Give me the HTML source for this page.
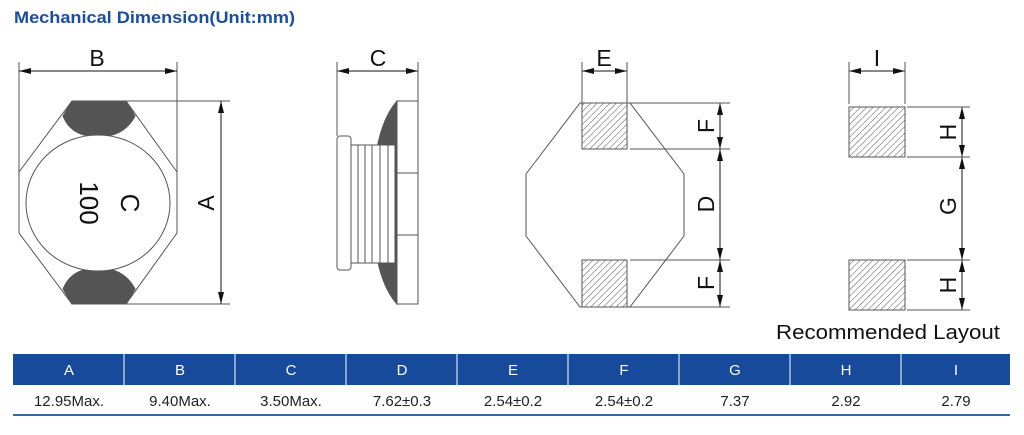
<!DOCTYPE html>
<html><head><meta charset="utf-8"><style>
html,body{margin:0;padding:0;background:#fff;}
svg{display:block;font-family:"Liberation Sans",sans-serif;}
</style></head><body>
<svg width="1024" height="435" viewBox="0 0 1024 435" xmlns="http://www.w3.org/2000/svg">
<defs>
<pattern id="h" width="4.5" height="4.5" patternUnits="userSpaceOnUse" patternTransform="rotate(45)">
<line x1="0" y1="0" x2="0" y2="4.5" stroke="#444" stroke-width="0.9"/>
</pattern>
<marker id="a" markerWidth="12" markerHeight="6" refX="12" refY="3" orient="auto-start-reverse" markerUnits="userSpaceOnUse">
<path d="M0,0 L12,3 L0,6 Z" fill="#111"/>
</marker>
</defs>
<text x="14" y="23" font-size="17" font-weight="bold" fill="#1b4ea0" textLength="281" lengthAdjust="spacingAndGlyphs">Mechanical Dimension(Unit:mm)</text>

<g stroke="#555" stroke-width="1" fill="none">
<path d="M72,101 L126,101 L177,172 L177,233 L126,304 L72,304 L19,233 L19,172 Z" fill="#fff"/>
<path d="M72,101 L126,101 L135,116 Q126,133 108,136 L88,136 Q70,133 63,116 Z" fill="#555"/>
<path d="M72,304 L126,304 L135,289 Q126,272 108,269 L88,269 Q70,272 63,289 Z" fill="#555"/>
<ellipse cx="98" cy="203" rx="72" ry="68" fill="#fff"/>
<line x1="19" y1="62" x2="19" y2="172"/>
<line x1="177" y1="62" x2="177" y2="172"/>
<line x1="126" y1="101" x2="230" y2="101"/>
<line x1="126" y1="304" x2="230" y2="304"/>
</g>
<g stroke="#111" stroke-width="1">
<line x1="19" y1="71" x2="177" y2="71" marker-start="url(#a)" marker-end="url(#a)"/>
<line x1="221" y1="101" x2="221" y2="304" marker-start="url(#a)" marker-end="url(#a)"/>
<line x1="337" y1="71" x2="418" y2="71" marker-start="url(#a)" marker-end="url(#a)"/>
<line x1="582" y1="71" x2="627" y2="71" marker-start="url(#a)" marker-end="url(#a)"/>
<line x1="720" y1="103" x2="720" y2="149" marker-start="url(#a)" marker-end="url(#a)"/>
<line x1="720" y1="149" x2="720" y2="260" marker-start="url(#a)" marker-end="url(#a)"/>
<line x1="720" y1="260" x2="720" y2="307" marker-start="url(#a)" marker-end="url(#a)"/>
<line x1="849" y1="71" x2="905" y2="71" marker-start="url(#a)" marker-end="url(#a)"/>
<line x1="962" y1="107" x2="962" y2="157" marker-start="url(#a)" marker-end="url(#a)"/>
<line x1="962" y1="157" x2="962" y2="260" marker-start="url(#a)" marker-end="url(#a)"/>
<line x1="962" y1="260" x2="962" y2="310" marker-start="url(#a)" marker-end="url(#a)"/>
</g>
<g font-size="23" fill="#111" text-anchor="middle">
<text x="97" y="66">B</text>
<text x="378" y="66">C</text>
<text x="604" y="66">E</text>
<text x="877" y="66">I</text>
<text transform="translate(214,203) rotate(-90)">A</text>
<text transform="translate(714,126) rotate(-90)">F</text>
<text transform="translate(714,204) rotate(-90)">D</text>
<text transform="translate(714,283) rotate(-90)">F</text>
<text transform="translate(956,132) rotate(-90)">H</text>
<text transform="translate(956,206) rotate(-90)">G</text>
<text transform="translate(956,285) rotate(-90)">H</text>
</g>
<g font-size="26" fill="#111" text-anchor="middle">
<text transform="translate(121,203) rotate(90)">C</text>
<text transform="translate(80,203) rotate(90)">100</text>
</g>

<g stroke="#555" stroke-width="1" fill="none">
<line x1="337" y1="62" x2="337" y2="136"/>
<line x1="418" y1="62" x2="418" y2="101"/>
<path d="M397,101 Q372,130 373,203 Q372,276 397,304 Z" fill="#555"/>
<rect x="397" y="101" width="21" height="203" fill="#fff"/>
<line x1="397" y1="173" x2="418" y2="173"/>
<line x1="397" y1="235" x2="418" y2="235"/>
<rect x="351" y="145" width="44" height="118" fill="#fff"/>
<line x1="358" y1="145" x2="358" y2="263"/>
<line x1="365" y1="145" x2="365" y2="263"/>
<line x1="372" y1="145" x2="372" y2="263"/>
<line x1="380" y1="145" x2="380" y2="263"/>
<line x1="388" y1="145" x2="388" y2="263"/>
<rect x="337" y="136" width="14" height="134" rx="3" fill="#fff"/>
</g>

<g stroke="#555" stroke-width="1" fill="none">
<path d="M580,103 L630,103 L684,174 L684,236 L630,307 L580,307 L526,236 L526,174 Z" fill="#fff"/>
<rect x="582" y="103" width="45" height="46" fill="url(#h)"/>
<rect x="582" y="260" width="45" height="47" fill="url(#h)"/>
<line x1="582" y1="62" x2="582" y2="103"/>
<line x1="627" y1="62" x2="627" y2="103"/>
<line x1="630" y1="103" x2="730" y2="103"/>
<line x1="630" y1="149" x2="730" y2="149"/>
<line x1="630" y1="260" x2="730" y2="260"/>
<line x1="630" y1="307" x2="730" y2="307"/>
<rect x="849" y="107" width="56" height="50" fill="url(#h)"/>
<rect x="849" y="260" width="56" height="50" fill="url(#h)"/>
<line x1="849" y1="62" x2="849" y2="104"/>
<line x1="905" y1="62" x2="905" y2="104"/>
<line x1="907" y1="107" x2="970" y2="107"/>
<line x1="907" y1="157" x2="970" y2="157"/>
<line x1="907" y1="260" x2="970" y2="260"/>
<line x1="907" y1="310" x2="970" y2="310"/>
</g>
<text x="776" y="339" font-size="20" fill="#111" textLength="224" lengthAdjust="spacingAndGlyphs">Recommended Layout</text>

<rect x="13" y="354" width="997" height="31" fill="#174a9a"/>
<g stroke="#fff" stroke-width="1">
<line x1="124" y1="354" x2="124" y2="385"/><line x1="235" y1="354" x2="235" y2="385"/>
<line x1="346" y1="354" x2="346" y2="385"/><line x1="457" y1="354" x2="457" y2="385"/>
<line x1="568" y1="354" x2="568" y2="385"/><line x1="679" y1="354" x2="679" y2="385"/>
<line x1="790" y1="354" x2="790" y2="385"/><line x1="901" y1="354" x2="901" y2="385"/>
</g>
<line x1="13" y1="415" x2="1010" y2="415" stroke="#3a64a8" stroke-width="2"/>
<g font-size="15" text-anchor="middle" fill="#fff">
<text x="69" y="375">A</text><text x="180" y="375">B</text><text x="291" y="375">C</text>
<text x="402" y="375">D</text><text x="513" y="375">E</text><text x="624" y="375">F</text>
<text x="735" y="375">G</text><text x="846" y="375">H</text><text x="956" y="375">I</text>
</g>
<g font-size="15" text-anchor="middle" fill="#222">
<text x="69" y="406">12.95Max.</text><text x="180" y="406">9.40Max.</text><text x="291" y="406">3.50Max.</text>
<text x="402" y="406">7.62±0.3</text><text x="513" y="406">2.54±0.2</text><text x="624" y="406">2.54±0.2</text>
<text x="735" y="406">7.37</text><text x="846" y="406">2.92</text><text x="956" y="406">2.79</text>
</g>
</svg>
</body></html>
